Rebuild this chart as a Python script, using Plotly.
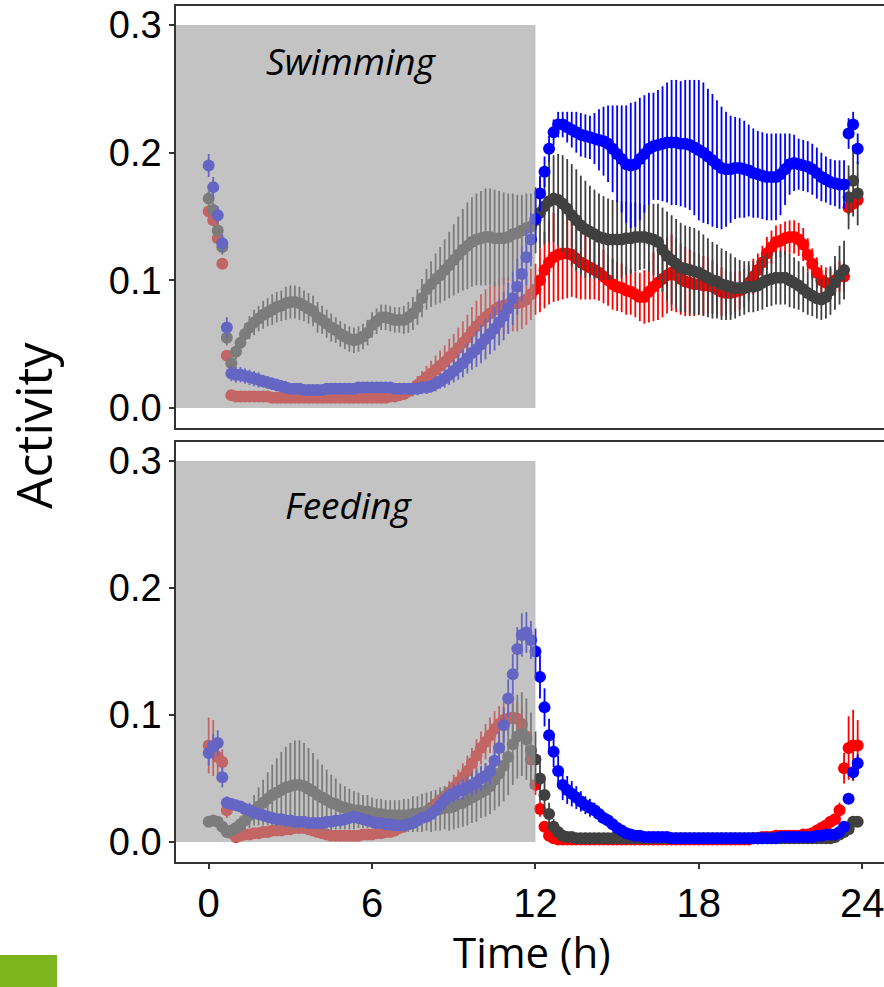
import plotly.graph_objects as go

# Sampling grid: one value every 10 minutes over 24 h
TIME_MIN = list(range(0, 1440, 10))
TIME_H = [m / 60 for m in TIME_MIN]

X_TICKS = [0, 6, 12, 18, 24]
Y_TICKS = [0.0, 0.1, 0.2, 0.3]
Y_TICK_TEXT = ["0.0", "0.1", "0.2", "0.3"]

# ---- Swimming activity (mean and error) ----
SW_RED = [
    .154, .147, .133, .113, .041, .010,
    .009, .009, .009, .009, .009, .009,
    .009, .009, .008, .008, .008, .008,
    .008, .008, .008, .008, .008, .008,
    .008, .008, .008, .008, .008, .008,
    .008, .008, .008, .008, .008, .008,
    .008, .008, .008, .008, .009, .009,
    .010, .011, .013, .015, .018, .021,
    .024, .027, .030, .033, .036, .040,
    .043, .047, .051, .055, .060, .064,
    .068, .071, .074, .077, .079, .080,
    .081, .082, .082, .083, .085, .089,
    .093, .100, .108, .114, .118, .120,
    .121, .121, .120, .117, .114, .112,
    .110, .108, .106, .103, .100, .097,
    .095, .094, .092, .091, .089, .087,
    .087, .091, .095, .098, .101, .104,
    .106, .104, .101, .099, .098, .097,
    .097, .096, .096, .095, .093, .091,
    .090, .090, .091, .092, .094, .098,
    .103, .108, .114, .121, .126, .130,
    .131, .133, .134, .134, .132, .128,
    .120, .113, .106, .100, .098, .097,
    .100, .103, .103, .157, .160, .163,
]
SW_RED_ERR = [
    .004, .004, .004, .004, .004, .003,
    .002, .002, .002, .002, .002, .002,
    .002, .002, .002, .002, .002, .002,
    .002, .002, .002, .002, .002, .002,
    .002, .002, .002, .002, .002, .002,
    .002, .002, .002, .002, .002, .002,
    .002, .002, .002, .002, .002, .002,
    .003, .004, .005, .006, .007, .008,
    .009, .010, .011, .012, .013, .014,
    .015, .016, .017, .018, .019, .020,
    .021, .022, .022, .022, .022, .022,
    .022, .022, .022, .021, .020, .020,
    .020, .025, .030, .033, .035, .036,
    .036, .035, .033, .031, .029, .027,
    .025, .023, .022, .021, .020, .020,
    .019, .019, .019, .018, .018, .019,
    .021, .024, .027, .029, .030, .030,
    .030, .029, .028, .027, .026, .025,
    .024, .023, .022, .021, .020, .019,
    .018, .017, .016, .015, .015, .014,
    .014, .013, .013, .013, .013, .013,
    .013, .013, .013, .013, .013, .013,
    .013, .012, .012, .012, .012, .012,
    .012, .012, .012, .006, .006, .006,
]
SW_GREY = [
    .164, .155, .139, .126, .055, .035,
    .044, .051, .058, .063, .067, .070,
    .073, .075, .077, .079, .080, .082,
    .083, .083, .082, .080, .078, .076,
    .071, .069, .066, .063, .061, .058,
    .056, .054, .053, .054, .056, .059,
    .065, .068, .071, .071, .070, .069,
    .069, .069, .071, .074, .079, .086,
    .093, .097, .101, .104, .108, .112,
    .116, .120, .124, .127, .130, .132,
    .133, .134, .134, .133, .133, .133,
    .134, .136, .137, .139, .141, .142,
    .147, .153, .158, .162, .164, .163,
    .160, .156, .151, .147, .143, .140,
    .138, .136, .134, .133, .132, .132,
    .132, .132, .133, .133, .134, .134,
    .134, .133, .132, .130, .124, .119,
    .116, .113, .110, .109, .108, .107,
    .106, .104, .102, .100, .099, .097,
    .096, .095, .094, .094, .094, .095,
    .095, .096, .098, .100, .101, .102,
    .102, .102, .100, .098, .096, .093,
    .090, .088, .086, .085, .087, .092,
    .098, .104, .108, .165, .178, .168,
]
SW_GREY_ERR = [
    .006, .006, .006, .006, .006, .005,
    .006, .007, .008, .009, .010, .010,
    .011, .011, .012, .012, .012, .013,
    .013, .013, .013, .012, .012, .012,
    .012, .011, .011, .011, .010, .010,
    .010, .010, .010, .010, .010, .010,
    .010, .010, .010, .010, .010, .010,
    .010, .011, .012, .013, .014, .015,
    .016, .018, .020, .022, .024, .026,
    .028, .030, .032, .034, .035, .036,
    .037, .038, .038, .038, .037, .036,
    .034, .032, .030, .028, .027, .026,
    .026, .028, .030, .032, .034, .036,
    .038, .039, .040, .040, .039, .038,
    .036, .035, .034, .033, .032, .031,
    .031, .030, .029, .028, .027, .026,
    .025, .026, .028, .030, .033, .035,
    .035, .035, .035, .034, .034, .034,
    .033, .032, .031, .030, .029, .028,
    .027, .026, .024, .022, .021, .020,
    .020, .020, .021, .021, .021, .021,
    .021, .021, .021, .020, .019, .018,
    .017, .016, .016, .016, .017, .019,
    .021, .023, .023, .025, .028, .025,
]
SW_BLUE = [
    .190, .173, .151, .129, .063, .027,
    .026, .026, .025, .024, .023, .022,
    .021, .020, .019, .018, .017, .016,
    .015, .015, .015, .014, .014, .014,
    .014, .014, .015, .015, .015, .015,
    .015, .015, .015, .016, .016, .016,
    .016, .016, .016, .016, .016, .015,
    .015, .015, .015, .015, .015, .016,
    .016, .017, .019, .021, .023, .026,
    .029, .032, .035, .039, .043, .046,
    .050, .054, .058, .062, .067, .072,
    .078, .086, .095, .105, .118, .132,
    .148, .168, .185, .203, .216, .222,
    .222, .220, .218, .216, .214, .213,
    .212, .211, .210, .209, .207, .203,
    .199, .195, .191, .190, .191, .195,
    .199, .203, .205, .206, .207, .208,
    .208, .208, .207, .207, .206, .204,
    .202, .200, .197, .194, .191, .188,
    .187, .187, .188, .188, .187, .186,
    .184, .183, .182, .181, .181, .181,
    .183, .187, .191, .192, .191, .190,
    .189, .187, .184, .181, .179, .177,
    .176, .175, .175, .215, .222, .203,
]
SW_BLUE_ERR = [
    .009, .008, .007, .007, .008, .006,
    .006, .006, .006, .006, .006, .006,
    .005, .005, .005, .005, .005, .005,
    .004, .004, .004, .004, .004, .004,
    .004, .004, .004, .004, .004, .004,
    .004, .004, .004, .004, .004, .004,
    .004, .004, .004, .004, .004, .004,
    .004, .004, .004, .004, .005, .005,
    .005, .005, .006, .006, .007, .008,
    .009, .010, .011, .012, .013, .014,
    .015, .016, .016, .017, .018, .019,
    .020, .021, .022, .022, .022, .021,
    .018, .014, .012, .010, .010, .010,
    .010, .012, .014, .016, .017, .017,
    .017, .020, .024, .027, .030, .034,
    .038, .042, .046, .049, .049, .048,
    .046, .044, .042, .043, .045, .047,
    .049, .049, .049, .050, .051, .053,
    .055, .055, .053, .052, .050, .048,
    .045, .042, .040, .039, .038, .036,
    .035, .034, .034, .034, .034, .034,
    .032, .028, .024, .022, .020, .020,
    .020, .020, .020, .019, .018, .018,
    .018, .019, .019, .012, .010, .012,
]

# ---- Feeding activity (mean and error) ----
FD_RED = [
    .076, .074, .067, .063, .025, .007,
    .004, .005, .006, .006, .007, .007,
    .008, .008, .009, .009, .009, .010,
    .010, .011, .011, .011, .010, .009,
    .008, .007, .006, .005, .005, .005,
    .005, .005, .005, .005, .006, .006,
    .006, .007, .007, .008, .008, .009,
    .011, .012, .014, .016, .019, .021,
    .024, .027, .030, .033, .036, .039,
    .043, .047, .051, .056, .062, .068,
    .074, .079, .084, .089, .093, .096,
    .097, .098, .097, .093, .083, .065,
    .045, .026, .012, .005, .003, .002,
    .002, .002, .002, .002, .002, .002,
    .002, .002, .002, .002, .002, .002,
    .002, .002, .002, .002, .002, .002,
    .002, .002, .002, .002, .002, .002,
    .002, .002, .002, .002, .002, .002,
    .002, .002, .002, .002, .002, .002,
    .002, .002, .002, .002, .002, .002,
    .003, .003, .004, .004, .004, .005,
    .005, .005, .005, .005, .005, .006,
    .006, .007, .009, .011, .013, .016,
    .018, .025, .058, .074, .076, .076,
]
FD_RED_ERR = [
    .022, .022, .015, .010, .006, .003,
    .002, .002, .002, .002, .002, .002,
    .002, .002, .002, .002, .002, .002,
    .002, .002, .002, .002, .002, .002,
    .002, .002, .002, .002, .002, .002,
    .002, .002, .002, .002, .002, .002,
    .002, .002, .002, .002, .002, .002,
    .003, .003, .004, .004, .005, .005,
    .006, .006, .007, .008, .008, .009,
    .010, .010, .011, .012, .012, .013,
    .013, .014, .014, .014, .014, .014,
    .014, .014, .013, .012, .011, .010,
    .008, .006, .004, .003, .002, .002,
    .001, .001, .001, .001, .001, .001,
    .001, .001, .001, .001, .001, .001,
    .001, .001, .001, .001, .001, .001,
    .001, .001, .001, .001, .001, .001,
    .001, .001, .001, .001, .001, .001,
    .001, .001, .001, .001, .001, .001,
    .001, .001, .001, .001, .001, .001,
    .001, .001, .001, .001, .001, .001,
    .001, .001, .001, .001, .001, .001,
    .002, .002, .002, .003, .003, .003,
    .004, .006, .012, .025, .028, .020,
]
FD_GREY = [
    .016, .017, .016, .012, .008, .009,
    .011, .014, .017, .021, .025, .028,
    .031, .034, .037, .039, .041, .043,
    .044, .045, .045, .044, .042, .040,
    .037, .035, .033, .031, .030, .028,
    .027, .026, .025, .025, .024, .024,
    .023, .022, .022, .021, .021, .021,
    .021, .021, .021, .022, .022, .023,
    .024, .024, .025, .026, .027, .027,
    .028, .030, .031, .033, .035, .037,
    .039, .041, .044, .049, .054, .060,
    .067, .077, .083, .085, .081, .072,
    .065, .050, .037, .022, .012, .008,
    .005, .004, .004, .003, .003, .003,
    .003, .003, .003, .003, .003, .003,
    .003, .003, .003, .003, .003, .003,
    .003, .003, .003, .003, .003, .003,
    .003, .003, .003, .003, .003, .003,
    .003, .003, .003, .003, .003, .003,
    .003, .003, .003, .003, .003, .003,
    .003, .003, .003, .003, .003, .003,
    .003, .003, .003, .003, .003, .003,
    .003, .003, .003, .003, .003, .003,
    .004, .006, .008, .010, .016, .016,
]
FD_GREY_ERR = [
    .003, .003, .003, .003, .003, .003,
    .004, .006, .008, .010, .012, .015,
    .018, .021, .024, .027, .030, .032,
    .034, .035, .035, .034, .032, .030,
    .028, .026, .024, .022, .020, .018,
    .017, .016, .015, .014, .013, .013,
    .012, .012, .012, .012, .012, .012,
    .012, .013, .013, .014, .014, .015,
    .015, .016, .016, .017, .017, .018,
    .018, .019, .019, .020, .020, .021,
    .020, .021, .022, .024, .026, .028,
    .030, .032, .033, .033, .032, .030,
    .022, .018, .013, .009, .006, .004,
    .002, .002, .002, .002, .002, .002,
    .002, .002, .002, .002, .002, .002,
    .002, .002, .002, .002, .002, .002,
    .002, .002, .002, .002, .002, .002,
    .002, .002, .002, .002, .002, .002,
    .002, .002, .002, .002, .002, .002,
    .002, .002, .002, .002, .002, .002,
    .002, .002, .002, .002, .002, .002,
    .002, .002, .002, .002, .002, .002,
    .002, .002, .002, .002, .002, .002,
    .002, .003, .003, .003, .003, .003,
]
FD_BLUE = [
    .070, .075, .078, .051, .031, .030,
    .029, .028, .026, .025, .023, .022,
    .021, .020, .019, .018, .018, .017,
    .017, .016, .016, .016, .015, .015,
    .015, .015, .016, .016, .017, .017,
    .018, .019, .020, .019, .018, .017,
    .016, .015, .015, .014, .014, .013,
    .013, .013, .014, .015, .017, .019,
    .020, .022, .025, .029, .033, .036,
    .038, .040, .041, .043, .045, .047,
    .050, .052, .056, .064, .074, .092,
    .113, .132, .152, .163, .165, .159,
    .150, .130, .106, .084, .071, .056,
    .045, .041, .038, .035, .032, .029,
    .027, .025, .022, .019, .017, .014,
    .011, .009, .007, .006, .005, .005,
    .004, .004, .004, .004, .004, .004,
    .003, .003, .003, .003, .003, .003,
    .003, .003, .003, .003, .003, .003,
    .003, .003, .003, .003, .003, .003,
    .003, .003, .003, .003, .003, .003,
    .004, .004, .004, .004, .004, .004,
    .004, .004, .005, .005, .006, .006,
    .006, .008, .012, .034, .055, .062,
]
FD_BLUE_ERR = [
    .010, .010, .010, .008, .005, .004,
    .003, .003, .003, .003, .003, .003,
    .003, .003, .003, .003, .003, .003,
    .003, .003, .003, .003, .003, .003,
    .003, .003, .003, .003, .003, .003,
    .003, .003, .003, .003, .003, .003,
    .003, .003, .003, .003, .003, .003,
    .003, .003, .003, .003, .003, .003,
    .004, .004, .005, .005, .006, .006,
    .007, .007, .008, .008, .009, .009,
    .010, .010, .011, .012, .013, .014,
    .015, .016, .017, .017, .016, .015,
    .018, .017, .015, .013, .012, .012,
    .012, .011, .010, .009, .008, .007,
    .007, .006, .006, .005, .005, .004,
    .003, .003, .003, .003, .003, .003,
    .002, .002, .002, .002, .002, .002,
    .002, .002, .002, .002, .002, .002,
    .002, .002, .002, .002, .002, .002,
    .002, .002, .002, .002, .002, .002,
    .002, .002, .002, .002, .002, .002,
    .002, .002, .002, .002, .002, .002,
    .002, .002, .002, .002, .002, .002,
    .002, .003, .003, .004, .006, .007,
]

RED, GREY, BLUE = "#FF0000", "#404040", "#0000FF"

PANELS = [
    ("Swimming", "x", "y", [(SW_RED, SW_RED_ERR, RED),
                            (SW_GREY, SW_GREY_ERR, GREY),
                            (SW_BLUE, SW_BLUE_ERR, BLUE)]),
    ("Feeding", "x2", "y2", [(FD_RED, FD_RED_ERR, RED),
                            (FD_GREY, FD_GREY_ERR, GREY),
                            (FD_BLUE, FD_BLUE_ERR, BLUE)]),
]

X_RANGE = [-1.2, 24.8]
Y_RANGE = [-0.0157, 0.3149]
LIGHT_END = 12
AXIS_COLOR = "#333333"

fig = go.Figure()
for label, xa, ya, series in PANELS:
    for mean, err, color in series:
        fig.add_trace(go.Scatter(
            x=TIME_H, y=mean, xaxis=xa, yaxis=ya, mode="markers",
            marker=dict(color=color, size=12, symbol="circle", line=dict(width=0)),
            error_y=dict(type="data", array=err, visible=True, color=color,
                         thickness=1.8, width=0),
            showlegend=False, hoverinfo="skip",
        ))
    # translucent light-phase band drawn over the points
    fig.add_shape(type="rect", xref=xa, yref=ya, x0=X_RANGE[0], x1=LIGHT_END,
                  y0=0, y1=0.3, fillcolor="rgba(160,160,160,0.63)",
                  line=dict(width=0), layer="above")

fig.add_annotation(x=5.25, y=0.272, xref="x", yref="y", text="Swimming",
                   showarrow=False, xanchor="center", yanchor="middle",
                   font=dict(family="Open Sans", size=37, color="black", style="italic"))
fig.add_annotation(x=5.15, y=0.266, xref="x2", yref="y2", text="Feeding",
                   showarrow=False, xanchor="center", yanchor="middle",
                   font=dict(family="Open Sans", size=37, color="black", style="italic"))

yaxis_common = dict(
    range=Y_RANGE, tickvals=Y_TICKS, ticktext=Y_TICK_TEXT, ticks="outside",
    ticklen=5, tickwidth=1.5, tickcolor=AXIS_COLOR, showline=True, linewidth=1.5,
    linecolor=AXIS_COLOR, showgrid=False, zeroline=False,
    tickfont=dict(family="Liberation Sans, Arial", size=38, color="black"),
)
xaxis_common = dict(
    range=X_RANGE, showline=True, mirror=True, linewidth=1.5, linecolor=AXIS_COLOR,
    showgrid=False, zeroline=False,
)

fig.update_layout(
    width=884, height=987,
    margin=dict(l=176, r=0, t=6, b=125),
    paper_bgcolor="white", plot_bgcolor="white",
    xaxis=dict(**xaxis_common, anchor="y", domain=[0, 1], showticklabels=False, ticks=""),
    yaxis=dict(**yaxis_common, anchor="x", domain=[0.507, 1.0]),
    xaxis2=dict(**xaxis_common, anchor="y2", domain=[0, 1], tickvals=X_TICKS,
                ticks="outside", ticklen=5, tickwidth=1.5, tickcolor=AXIS_COLOR,
                ticklabeloverflow="allow",
                tickfont=dict(family="Liberation Sans, Arial", size=40, color="black")),
    yaxis2=dict(**yaxis_common, anchor="x2", domain=[0, 0.4907]),
)

# axis titles
fig.add_annotation(x=-0.202, y=0.5105, xref="paper", yref="paper", text="Activity",
                   textangle=-90, showarrow=False, xanchor="center", yanchor="middle",
                   font=dict(family="Open Sans", size=50, color="black"))
fig.add_annotation(x=0.503, y=-0.1040, xref="paper", yref="paper", text="Time (h)",
                   showarrow=False, xanchor="center", yanchor="middle",
                   font=dict(family="Open Sans", size=42, color="black"))

# green corner tab
fig.add_shape(type="rect", xref="paper", yref="paper",
              x0=(0 - 176) / 708, x1=(57 - 176) / 708,
              y0=(862 - 990) / 856, y1=(862 - 955) / 856,
              fillcolor="#7CB51D", line=dict(width=0), layer="above")

fig.write_html("out.html")
